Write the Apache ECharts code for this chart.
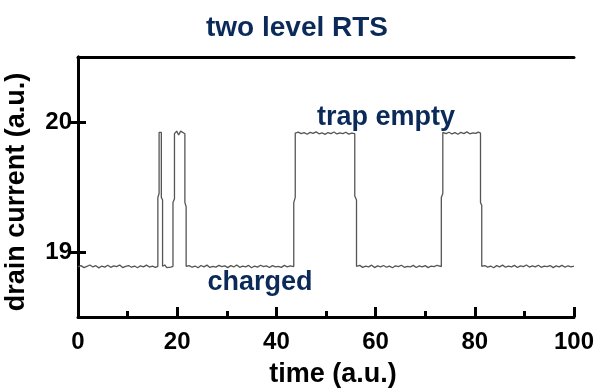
<!DOCTYPE html>
<html>
<head>
<meta charset="utf-8">
<script src="https://cdn.jsdelivr.net/npm/echarts@6/dist/echarts.min.js"></script>
<style>
  html, body { margin: 0; padding: 0; background: #fff; }
  #chart { width: 599px; height: 388px; }
</style>
</head>
<body>
<div id="chart"></div>
<script>
// 轴刻度
const xTicks = [0, 20, 40, 60, 80, 100];
const yTicks = [19, 20];

// 电流轨迹（读图所得），按段落排列
const chargedA = [
  [0, 18.885], [0.6, 18.895], [1.2, 18.88], [1.8, 18.89], [2.4, 18.9], [3, 18.885],
  [3.6, 18.895], [4.2, 18.878], [4.8, 18.892], [5.4, 18.884], [6, 18.898], [6.6, 18.882],
  [7.2, 18.893], [7.8, 18.887], [8.4, 18.9], [9, 18.88], [9.6, 18.89], [10.2, 18.896],
  [10.8, 18.883], [11.4, 18.892], [12, 18.879], [12.6, 18.894], [13.2, 18.886], [13.8, 18.899],
  [14.4, 18.884], [15, 18.891], [15.6, 18.882], [16.1, 18.89]
];
const spikeA = [
  [16.1, 19.42], [16.35, 19.45], [16.35, 19.92], [16.8, 19.92], [16.8, 19.42], [17.05, 19.4], [17.05, 18.89]
];
const chargedB = [[17.5, 18.9], [17.9, 18.88], [18.3, 18.895], [18.7, 18.883], [19.15, 18.89]];
const spikeB = [
  [19.15, 19.38], [19.45, 19.41], [19.45, 19.91], [19.9, 19.93], [20.3, 19.9], [20.7, 19.93],
  [21.1, 19.915], [21.55, 19.91], [21.55, 19.38], [21.8, 19.35], [21.8, 18.89]
];
const chargedC = [
  [22.4, 18.895], [23, 18.883], [23.6, 18.892], [24.2, 18.879], [24.8, 18.896], [25.4, 18.886],
  [26, 18.899], [26.6, 18.881], [27.2, 18.89], [27.8, 18.884], [28.4, 18.897], [29, 18.887],
  [29.6, 18.893], [30.2, 18.88], [30.8, 18.895], [31.4, 18.885], [32, 18.9], [32.6, 18.882],
  [33.2, 18.891], [33.8, 18.886], [34.4, 18.897], [35, 18.879], [35.6, 18.892], [36.2, 18.884],
  [36.8, 18.898], [37.4, 18.887], [38, 18.893], [38.6, 18.881], [39.2, 18.895], [39.8, 18.885],
  [40.4, 18.89], [41, 18.882], [41.6, 18.897], [42.2, 18.886], [42.8, 18.893], [43.5, 18.888]
];
const riseA = [[43.5, 19.38], [43.8, 19.42], [43.8, 19.915]];
const emptyA = [
  [44.4, 19.922], [45, 19.91], [45.6, 19.918], [46.2, 19.906], [46.8, 19.92], [47.4, 19.912],
  [48, 19.924], [48.6, 19.909], [49.2, 19.917], [49.8, 19.905], [50.4, 19.919], [51, 19.911],
  [51.6, 19.923], [52.2, 19.908], [52.8, 19.916], [53.4, 19.91], [54, 19.921], [54.6, 19.907],
  [55.2, 19.915], [55.8, 19.91]
];
const fallA = [[55.8, 19.43], [56.15, 19.4], [56.15, 18.89]];
const chargedD = [
  [56.8, 18.897], [57.4, 18.882], [58, 18.892], [58.6, 18.886], [59.2, 18.899], [59.8, 18.88],
  [60.4, 18.893], [61, 18.885], [61.6, 18.896], [62.2, 18.883], [62.8, 18.891], [63.4, 18.879],
  [64, 18.894], [64.6, 18.887], [65.2, 18.898], [65.8, 18.882], [66.4, 18.89], [67, 18.886],
  [67.6, 18.897], [68.2, 18.881], [68.8, 18.893], [69.4, 18.885], [70, 18.895], [70.6, 18.88],
  [71.2, 18.892], [71.8, 18.887], [72.4, 18.898], [73.25, 18.888]
];
const riseB = [[73.25, 19.42], [73.55, 19.45], [73.55, 19.92]];
const emptyB = [
  [74.2, 19.91], [74.8, 19.921], [75.4, 19.908], [76, 19.918], [76.6, 19.906], [77.2, 19.92],
  [77.8, 19.911], [78.4, 19.924], [79, 19.909], [79.6, 19.917], [80.2, 19.912], [80.7, 19.922],
  [81.15, 19.915]
];
const fallB = [[81.15, 19.38], [81.4, 19.36], [81.4, 18.89]];
const chargedE = [
  [82, 18.896], [82.6, 18.884], [83.2, 18.892], [83.8, 18.879], [84.4, 18.895], [85, 18.886],
  [85.6, 18.899], [86.2, 18.883], [86.8, 18.891], [87.4, 18.885], [88, 18.897], [88.6, 18.881],
  [89.2, 18.893], [89.8, 18.887], [90.4, 18.9], [91, 18.884], [91.6, 18.894], [92.2, 18.886],
  [92.8, 18.898], [93.4, 18.882], [94, 18.892], [94.6, 18.888], [95.2, 18.896], [95.8, 18.88],
  [96.4, 18.893], [97, 18.885], [97.6, 18.897], [98.2, 18.883], [98.8, 18.894], [99.4, 18.886],
  [100, 18.891]
];

const trace = [].concat(
  chargedA, spikeA, chargedB, spikeB, chargedC, riseA, emptyA, fallA,
  chargedD, riseB, emptyB, fallB, chargedE
);

const navy = '#0b2a59';
const font = '"Liberation Sans", Arial, sans-serif';

const chart = echarts.init(document.getElementById('chart'));
chart.setOption({
  animation: false,
  backgroundColor: '#fff',
  title: {
    text: 'two level RTS',
    left: 292,
    top: 9,
    textAlign: 'center',
    textStyle: { color: navy, fontSize: 28, fontWeight: 'bold', fontFamily: font }
  },
  grid: { left: 78, top: 57, width: 496, height: 260, containLabel: false, outerBoundsMode: 'none' },
  xAxis: [
    {
      type: 'value',
      min: 0,
      max: 100,
      interval: 20,
      position: 'bottom',
      name: 'time (a.u.)',
      nameLocation: 'middle',
      nameGap: 44,
      nameTextStyle: { color: '#000', fontSize: 27, fontWeight: 'bold', fontFamily: font, padding: [0, 0, 0, 14] },
      axisLine: { lineStyle: { color: '#000', width: 3 } },
      axisTick: { inside: true, length: 10, lineStyle: { color: '#000', width: 3 } },
      minorTick: { show: true, splitNumber: 2, length: 6, lineStyle: { color: '#000', width: 3 } },
      axisLabel: {
        color: '#000', fontSize: 24, fontWeight: 'bold', fontFamily: font, margin: 13,
        customValues: xTicks
      },
      splitLine: { show: false }
    },
    {
      type: 'value',
      min: 0,
      max: 100,
      position: 'top',
      axisLine: { lineStyle: { color: '#000', width: 3 } },
      axisTick: { show: false },
      axisLabel: { show: false },
      splitLine: { show: false }
    }
  ],
  yAxis: [
    {
      type: 'value',
      min: 18.5,
      max: 20.5,
      position: 'left',
      name: 'drain current (a.u.)',
      nameLocation: 'middle',
      nameGap: 48,
      nameRotate: 90,
      nameTextStyle: { color: '#000', fontSize: 27, fontWeight: 'bold', fontFamily: font, padding: [0, 10, 0, 0] },
      axisLine: { lineStyle: { color: '#000', width: 3 } },
      axisTick: { inside: true, length: 8, lineStyle: { color: '#000', width: 3 }, customValues: yTicks },
      axisLabel: {
        color: '#000', fontSize: 24, fontWeight: 'bold', fontFamily: font, margin: 6,
        customValues: yTicks
      },
      splitLine: { show: false }
    },
    {
      type: 'value',
      min: 18.5,
      max: 20.5,
      position: 'right',
      axisLine: { lineStyle: { color: '#000', width: 3 } },
      axisTick: { inside: true, length: 8, lineStyle: { color: '#000', width: 3 }, customValues: yTicks },
      axisLabel: { show: false },
      splitLine: { show: false }
    }
  ],
  graphic: [
    {
      type: 'text', x: 386, y: 118,
      style: {
        text: 'trap empty', fill: navy, font: 'bold 27px ' + font,
        textAlign: 'center', textVerticalAlign: 'middle'
      }
    },
    {
      type: 'text', x: 260, y: 283,
      style: {
        text: 'charged', fill: navy, font: 'bold 27px ' + font,
        textAlign: 'center', textVerticalAlign: 'middle'
      }
    }
  ],
  series: [
    {
      type: 'line',
      data: trace,
      showSymbol: false,
      symbol: 'none',
      lineStyle: { color: '#555', width: 1.3 },
      z: 1
    }
  ]
});
</script>
</body>
</html>
